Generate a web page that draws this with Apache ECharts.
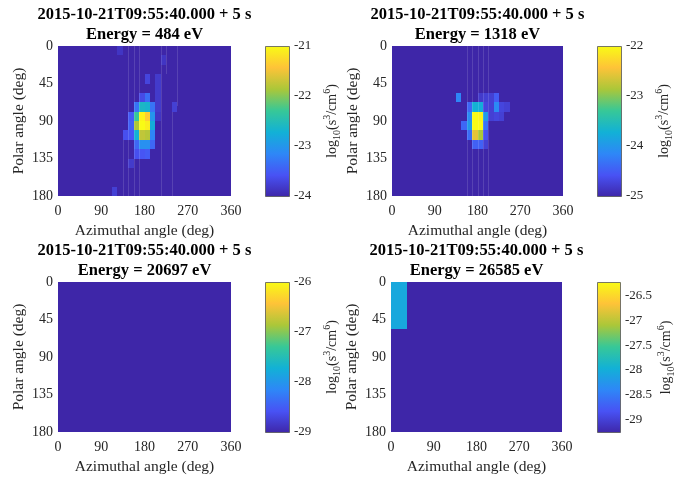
<!DOCTYPE html>
<html><head><meta charset="utf-8">
<script src="https://cdn.jsdelivr.net/npm/echarts@6/dist/echarts.min.js"></script>
<style>html,body{margin:0;padding:0;background:#fff}#c{width:699px;height:480px}</style>
</head><body><div id="c"></div>
<script>
// ---------- data ----------
const timeLabel = '2015-10-21T09:55:40.000 + 5 s';
const energies = [484, 1318, 20697, 26585];
const azTicks = [0, 90, 180, 270, 360];
const polTicks = [0, 45, 90, 135, 180];
const nAz = 32, nPol = 16;
const azBin = 11.25, polBin = 11.25;
const clims = [[-24, -21], [-25, -22], [-29, -26], [-29.26, -26.22]];
const cbStep = [1, 1, 1, 0.5];
const floors = [-24, -25, -29, -29.26];
// sparse cells: [azimuth bin, polar bin, log10 value]
const cells484 = [
  [11,0,-23.85],
  [19,1,-23.85],
  [16,3,-23.7],[18,3,-23.8],
  [18,4,-23.8],
  [15,5,-23.65],[16,5,-23.35],[18,5,-23.8],
  [14,6,-23.3],[15,6,-22.6],[16,6,-22.65],[17,6,-23.3],[18,6,-23.8],[21,6,-23.75],
  [13,7,-23.5],[14,7,-22.3],[15,7,-21.05],[16,7,-21.35],[17,7,-23.0],[18,7,-23.85],
  [13,8,-23.45],[14,8,-21.85],[15,8,-21.0],[16,8,-21.1],[17,8,-22.75],
  [12,9,-23.6],[13,9,-23.55],[14,9,-22.7],[15,9,-21.75],[16,9,-21.8],[17,9,-23.15],
  [14,10,-23.4],[15,10,-23.05],[16,10,-23.05],[17,10,-23.4],
  [14,11,-23.6],[15,11,-23.55],[16,11,-23.5],
  [13,12,-23.8],
  [10,15,-23.75]
];
const cells1318 = [
  [12,5,-24.15],[16,5,-24.8],[17,5,-24.75],[18,5,-24.75],[19,5,-24.5],
  [14,6,-24.4],[15,6,-23.7],[16,6,-23.75],[17,6,-24.7],[18,6,-24.75],[19,6,-24.1],[20,6,-24.7],[21,6,-24.75],
  [14,7,-24.1],[15,7,-22.0],[16,7,-22.05],[17,7,-23.95],[18,7,-24.75],[19,7,-24.7],[20,7,-24.75],
  [13,8,-24.4],[14,8,-23.95],[15,8,-22.0],[16,8,-22.0],[17,8,-24.3],
  [14,9,-24.35],[15,9,-22.55],[16,9,-22.85],[17,9,-24.6],
  [15,10,-24.45],[16,10,-24.45],[17,10,-24.75]
];
const cells20697 = [];
const cells26585 = [
  [0,0,-28.05],[1,0,-28.05],[2,0,-28.05],
  [0,1,-28.05],[1,1,-28.05],[2,1,-28.05],
  [0,2,-28.05],[1,2,-28.05],[2,2,-28.05],
  [0,3,-28.05],[1,3,-28.05],[2,3,-28.05],
  [0,4,-28.05],[1,4,-28.05],[2,4,-28.05]
];
// faint rendering seams: [azimuth deg, polar start, polar end]
const seams484 = [[135,113,180],[146.25,0,180],[157.5,0,180],[168.75,0,180],[213.75,0,180],[225,0,33],[236.25,79,180],[247.5,0,72]];
const seams1318 = [[157.5,0,180],[168.75,0,180],[180,0,180],[191.25,0,180],[202.5,0,180]];
const seams20697 = [];
const seams26585 = [];
const parula = ['#3E26A8','#4852F4','#2E87F7','#12B1D6','#37C897','#ABC739','#FEC338','#F9FB15'];

// ---------- layout ----------
const FONT = 'Liberation Serif';
const TXT = '#262626';
const plotBoxes = [[58,46,173,150],[392,46,171,150],[58,282,173,150],[391,282,171,150]];
const cbBoxes = [[265,46,24,150],[597,46,24,150],[265,282,24,150],[597,282,23,150]];
const titleTops = [5,5,241,241];

const allCells = [cells484, cells1318, cells20697, cells26585];
const allSeams = [seams484, seams1318, seams20697, seams26585];

function buildGrid(cells, floor) {
  const map = {};
  cells.forEach(c => { map[c[0] + '_' + c[1]] = c[2]; });
  const out = [];
  for (let r = 0; r < nPol; r++) {
    for (let c = 0; c < nAz; c++) {
      const v = map[c + '_' + r];
      out.push([(c + 0.5) * azBin, (r + 0.5) * polBin, v === undefined ? floor : v]);
    }
  }
  return out;
}

const grids = [], xAxes = [], yAxes = [], series = [], visualMaps = [], titles = [];
const cbGradient = () => new echarts.graphic.LinearGradient(0, 0, 0, 1,
  parula.map((c, k) => ({ offset: k / (parula.length - 1), color: parula[parula.length - 1 - k] })));

for (let i = 0; i < 4; i++) {
  const [l, t, w, h] = plotBoxes[i];
  grids.push({ left: l, top: t, width: w, height: h });
  xAxes.push({
    gridIndex: i, type: 'value', min: azTicks[0], max: azTicks[azTicks.length - 1], interval: azTicks[1] - azTicks[0],
    name: 'Azimuthal angle (deg)', nameLocation: 'middle', nameGap: 27,
    nameTextStyle: { fontFamily: FONT, fontSize: 15.5, color: TXT },
    axisLine: { show: false }, axisTick: { show: false }, splitLine: { show: false },
    axisLabel: { fontFamily: FONT, fontSize: 14, color: TXT, margin: 8 }
  });
  yAxes.push({
    gridIndex: i, type: 'value', min: polTicks[0], max: polTicks[polTicks.length - 1], interval: polTicks[1] - polTicks[0], inverse: true,
    name: 'Polar angle (deg)', nameLocation: 'middle', nameGap: 31,
    nameTextStyle: { fontFamily: FONT, fontSize: 15.5, color: TXT },
    axisLine: { show: false }, axisTick: { show: false }, splitLine: { show: false },
    axisLabel: { fontFamily: FONT, fontSize: 14, color: TXT, margin: 5 }
  });
  const data = buildGrid(allCells[i], floors[i]);
  visualMaps.push({
    type: 'continuous', show: false, seriesIndex: series.length, dimension: 2,
    min: clims[i][0], max: clims[i][1], inRange: { color: parula }
  });
  series.push({
    type: 'custom', xAxisIndex: i, yAxisIndex: i, data: data,
    renderItem: (params, api) => {
      const a = api.coord([api.value(0) - azBin / 2, api.value(1) - polBin / 2]);
      const b = api.coord([api.value(0) + azBin / 2, api.value(1) + polBin / 2]);
      const x0 = Math.round(Math.min(a[0], b[0])), x1 = Math.round(Math.max(a[0], b[0]));
      const y0 = Math.round(Math.min(a[1], b[1])), y1 = Math.round(Math.max(a[1], b[1]));
      return { type: 'rect', shape: { x: x0, y: y0, width: x1 - x0, height: y1 - y0 },
        style: { fill: api.visual('color'), stroke: null } };
    }
  });
  if (allSeams[i].length) {
    series.push({
      type: 'custom', xAxisIndex: i, yAxisIndex: i, data: allSeams[i], silent: true,
      renderItem: (params, api) => {
        const a = api.coord([api.value(0), api.value(1)]);
        const b = api.coord([api.value(0), api.value(2)]);
        const x = Math.round(a[0]) + 0.5;
        return { type: 'line', shape: { x1: x, y1: Math.round(a[1]), x2: x, y2: Math.round(b[1]) }, style: { stroke: 'rgba(255,255,255,0.13)', lineWidth: 1 } };
      }
    });
  }
  titles.push({
    text: timeLabel + '\nEnergy = ' + energies[i] + ' eV',
    left: l + w / 2, top: titleTops[i], textAlign: 'center', padding: 0,
    textStyle: { fontFamily: FONT, fontSize: 16.5, fontWeight: 'bold', color: '#000', lineHeight: 20 }
  });
}

// colorbars
for (let i = 0; i < 4; i++) {
  const [l, t, w, h] = cbBoxes[i];
  const [cmin, cmax] = clims[i];
  const st = cbStep[i];
  const aMin = Math.floor(cmin / st) * st, aMax = Math.ceil(cmax / st) * st;
  const ppu = h / (cmax - cmin);
  const gTop = t - (aMax - cmax) * ppu;
  const gH = (aMax - aMin) * ppu;
  const gi = 4 + i;
  grids.push({ left: l, top: gTop, width: w, height: gH });
  xAxes.push({ gridIndex: gi, type: 'value', min: 0, max: 1, show: false });
  yAxes.push({
    gridIndex: gi, type: 'value', position: 'right', min: aMin, max: aMax, interval: st,
    axisLine: { show: false }, axisTick: { show: false }, splitLine: { show: false },
    axisLabel: { fontFamily: FONT, fontSize: 13, color: TXT, margin: 5,
      showMinLabel: aMin === cmin, showMaxLabel: aMax === cmax },
    name: '{n|log}{sub|10}{n|(s}{sup|3}{n|/cm}{sup|6}{n|)}', nameLocation: 'middle', nameRotate: 90, nameGap: 33,
    nameTextStyle: { fontFamily: FONT, color: TXT,
      rich: {
        n: { fontFamily: FONT, fontSize: 14, color: TXT, lineHeight: 20, verticalAlign: 'middle' },
        sub: { fontFamily: FONT, fontSize: 10, color: TXT, verticalAlign: 'bottom' },
        sup: { fontFamily: FONT, fontSize: 10, color: TXT, verticalAlign: 'top' }
      } }
  });
  series.push({
    type: 'custom', xAxisIndex: gi, yAxisIndex: gi, data: [[cmin, cmax]], silent: true,
    renderItem: (params, api) => {
      const a = api.coord([0, api.value(1)]);
      const b = api.coord([1, api.value(0)]);
      return { type: 'rect', shape: { x: Math.round(a[0]) + 0.5, y: Math.round(a[1]) + 0.5, width: Math.round(b[0] - a[0]), height: Math.round(b[1] - a[1]) },
        style: { fill: cbGradient(), stroke: '#555', lineWidth: 0.8 } };
    }
  });
}

const chart = echarts.init(document.getElementById('c'), null, { renderer: 'canvas' });
chart.setOption({
  animation: false,
  backgroundColor: '#fff',
  title: titles,
  grid: grids, xAxis: xAxes, yAxis: yAxes,
  visualMap: visualMaps,
  series: series
});
</script></body></html>
